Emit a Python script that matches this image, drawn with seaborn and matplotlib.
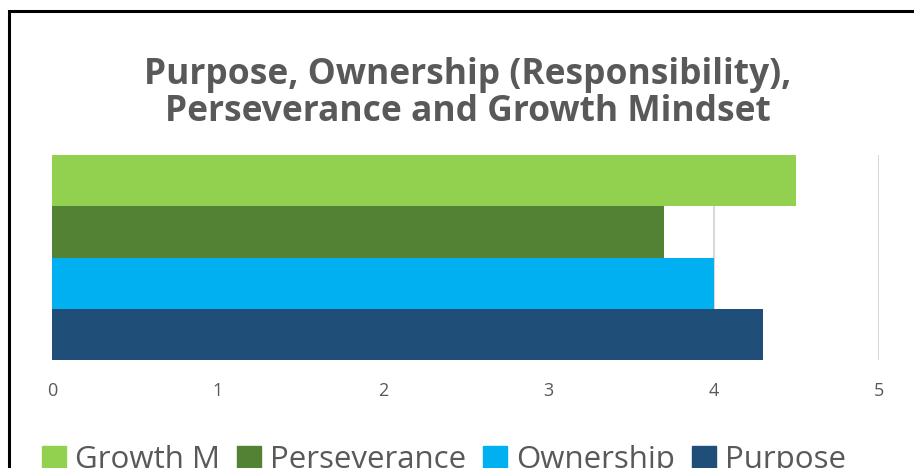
import matplotlib
matplotlib.use("Agg")
import matplotlib.pyplot as plt
import matplotlib.patches as mpatches
import seaborn as sns
import pandas as pd

categories = ["Growth M", "Perseverance", "Ownership", "Purpose"]
scores = [4.5, 3.7, 4.0, 4.3]
bar_colors = ["#92D050", "#548235", "#00B0F0", "#1F4E79"]
x_ticks = [0, 1, 2, 3, 4, 5]
title_lines = ["Purpose, Ownership (Responsibility),", "Perseverance and Growth Mindset"]

df = pd.DataFrame({"category": categories, "score": scores})

sns.set_theme(style="white")
plt.rcParams["font.family"] = ["Open Sans", "DejaVu Sans"]

fig = plt.figure(figsize=(9.14, 4.68), dpi=100)
ax = fig.add_axes([52 / 914, 1 - 360 / 468, (879 - 52) / 914, (360 - 155) / 468])

sns.barplot(data=df, x="score", y="category", hue="category", palette=bar_colors,
            order=categories, width=1.0, saturation=1, legend=False, linewidth=0, ax=ax)

ax.set_xlim(0, 5)
ax.set_xticks(x_ticks)
ax.set_xticklabels([str(t) for t in x_ticks], fontsize=13, color="#595959")
ax.set_yticks([])
ax.set_xlabel("")
ax.set_ylabel("")
ax.set_axisbelow(True)
ax.grid(axis="x", color="#D9D9D9", linewidth=1.5)
ax.tick_params(axis="x", length=0, pad=16)
for s in ax.spines.values():
    s.set_visible(False)

# title, two lines
for y_px, line in zip([75, 112], title_lines):
    fig.text(468 / 914, 1 - y_px / 468, line, ha="center", va="center",
             fontsize=25.5, fontweight="bold", color="#595959")

# outer frame (only left and top edges fall inside the picture)
frame = mpatches.Rectangle((9 / 914, -0.1), 1.2, 1 - 11 / 468 + 0.1, transform=fig.transFigure,
                           fill=False, edgecolor="black", linewidth=2.2)
fig.patches.append(frame)

# legend sits at the bottom edge, partly cut off as in the original
handles = [mpatches.Patch(color=c, label=n) for c, n in zip(bar_colors, categories)]
fig.legend(handles=handles, loc="center left", bbox_to_anchor=(14 / 914, 1 - 460 / 468),
           ncol=4, frameon=False, fontsize=22.5, handlelength=0.75, handleheight=0.75,
           handletextpad=0.3, columnspacing=0.55, labelcolor="#595959")

fig.savefig("out.png", dpi=100)
